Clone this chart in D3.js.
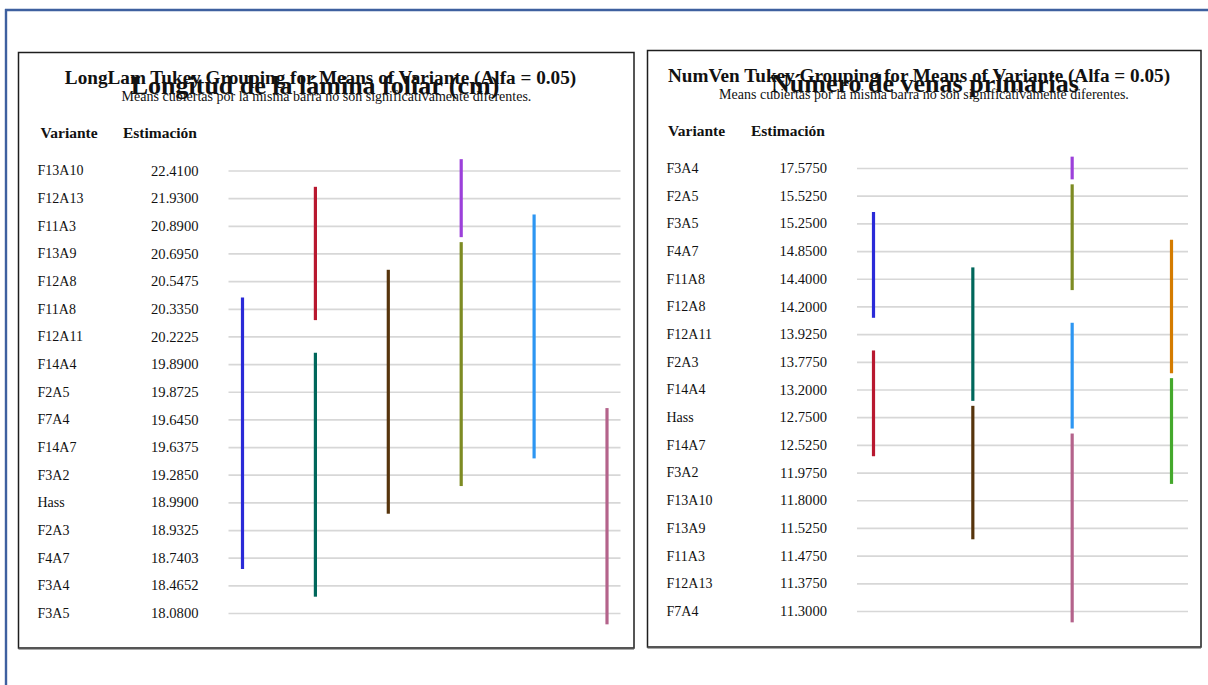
<!DOCTYPE html>
<html>
<head>
<meta charset="utf-8">
<script src="https://cdn.jsdelivr.net/npm/d3@7"></script>
<style>
  html, body { margin: 0; padding: 0; background: #ffffff; }
  svg { display: block; }
  text { font-family: "Liberation Serif", "Times New Roman", serif; fill: #111; }
</style>
</head>
<body>
<svg id="chart" width="1208" height="685"></svg>
<script>
// ---------------- DATA ----------------
// Left panel: Longitud de la lámina foliar (cm)
const leftTitle = "LongLam Tukey Grouping for Means of Variante (Alfa = 0.05)";
const leftBigTitle = "Longitud de la lámina foliar (cm)";
const leftVariants = ["F13A10","F12A13","F11A3","F13A9","F12A8","F11A8","F12A11","F14A4","F2A5","F7A4","F14A7","F3A2","Hass","F2A3","F4A7","F3A4","F3A5"];
const leftEstimates = ["22.4100","21.9300","20.8900","20.6950","20.5475","20.3350","20.2225","19.8900","19.8725","19.6450","19.6375","19.2850","18.9900","18.9325","18.7403","18.4652","18.0800"];
const leftGroupStart  = ["F13A10","F12A13","F11A3","F13A9","F12A8","F11A8","F14A4","F7A4"];
const leftGroupEnd    = ["F11A3","F11A8","F14A7","F3A2","Hass","F4A7","F3A4","F3A5"];
const leftGroupColumn = [3, 1, 4, 3, 2, 0, 1, 5];
const leftGroupColor  = ["#9c40da","#b8182f","#2d96f2","#7d8b23","#56340c","#2a2ad8","#00675b","#b4638b"];

// Right panel: Número de venas primarias
const rightTitle = "NumVen Tukey Grouping for Means of Variante (Alfa = 0.05)";
const rightBigTitle = "Número de venas primarias";
const rightVariants = ["F3A4","F2A5","F3A5","F4A7","F11A8","F12A8","F12A11","F2A3","F14A4","Hass","F14A7","F3A2","F13A10","F13A9","F11A3","F12A13","F7A4"];
const rightEstimates = ["17.5750","15.5250","15.2500","14.8500","14.4000","14.2000","13.9250","13.7750","13.2000","12.7500","12.5250","11.9750","11.8000","11.5250","11.4750","11.3750","11.3000"];
const rightGroupStart  = ["F3A4","F2A5","F3A5","F4A7","F11A8","F12A11","F2A3","F14A4","Hass","F14A7"];
const rightGroupEnd    = ["F3A4","F11A8","F12A8","F2A3","F14A4","Hass","F14A7","F3A2","F13A9","F7A4"];
const rightGroupColumn = [2, 2, 0, 3, 1, 2, 0, 3, 1, 2];
const rightGroupColor  = ["#9c40da","#7d8b23","#2a2ad8","#d47b00","#00675b","#2d96f2","#b8182f","#44a82c","#56340c","#b4638b"];

const subtitleText = "Means cubiertas por la misma barra no son significativamente diferentes.";
const headerVariante = "Variante";
const headerEstimacion = "Estimación";

// ---------------- DRAW ----------------
const svg = d3.select("#chart");
svg.append("rect").attr("width", 1208).attr("height", 685).attr("fill", "#fff");

// outer blue frame
svg.append("line").attr("x1", 5).attr("x2", 1208).attr("y1", 10).attr("y2", 10)
  .attr("stroke", "#3e609f").attr("stroke-width", 2.4);
svg.append("line").attr("x1", 6).attr("x2", 6).attr("y1", 9).attr("y2", 685)
  .attr("stroke", "#3e609f").attr("stroke-width", 2.4);

function drawPanel(cfg) {
  const g = svg.append("g");
  // panel box
  g.append("rect")
    .attr("x", cfg.box[0]).attr("y", cfg.box[1])
    .attr("width", cfg.box[2] - cfg.box[0]).attr("height", cfg.box[3] - cfg.box[1])
    .attr("fill", "#fff").attr("stroke", "#1e1e1e").attr("stroke-width", 1.5);
  g.append("line")
    .attr("x1", cfg.box[0]).attr("x2", cfg.box[2])
    .attr("y1", cfg.box[3] + 0.5).attr("y2", cfg.box[3] + 0.5)
    .attr("stroke", "#555").attr("stroke-width", 2.2);

  const y = d3.scalePoint().domain(cfg.variants).range(cfg.rowRange);
  const x = d3.scalePoint().domain(d3.range(cfg.nCols)).range(cfg.colRange);

  // gridlines via axis
  const grid = g.append("g")
    .attr("transform", `translate(${cfg.gridX[0]},0)`)
    .call(d3.axisRight(y).tickSize(cfg.gridX[1] - cfg.gridX[0]).tickFormat(""));
  grid.select(".domain").remove();
  grid.selectAll(".tick line").attr("stroke", "#d7d7d7").attr("stroke-width", 1.7);

  // titles
  g.append("text").attr("x", cfg.titleX).attr("y", cfg.titleY)
    .attr("text-anchor", "middle").attr("font-weight", "bold").attr("font-size", 19.2)
    .text(cfg.title);
  g.append("text").attr("x", cfg.bigX).attr("y", cfg.bigY)
    .attr("text-anchor", "middle").attr("font-weight", "bold").attr("font-size", 26)
    .text(cfg.bigTitle);
  g.append("text").attr("x", cfg.subX).attr("y", cfg.subY)
    .attr("text-anchor", "middle").attr("font-size", 14)
    .text(subtitleText);

  // headers
  g.append("text").attr("x", cfg.headX[0]).attr("y", cfg.headerY)
    .attr("font-weight", "bold").attr("font-size", 15.5).text(headerVariante);
  g.append("text").attr("x", cfg.headX[1]).attr("y", cfg.headerY)
    .attr("text-anchor", "end").attr("font-weight", "bold").attr("font-size", 15.5).text(headerEstimacion);

  // row labels and values
  g.selectAll("text.lab").data(cfg.variants).join("text")
    .attr("class", "lab")
    .attr("x", cfg.labelX).attr("y", d => y(d)).attr("dy", "0.35em")
    .attr("font-size", 14).text(d => d);
  g.selectAll("text.val").data(cfg.estimates).join("text")
    .attr("class", "val")
    .attr("x", cfg.valueX).attr("y", (d, i) => y(cfg.variants[i])).attr("dy", "0.35em")
    .attr("text-anchor", "end").attr("font-size", 14.6).text(d => d);

  // grouping bars
  const ext = y.step() * 0.41;
  const groups = cfg.gStart.map((s, i) => ({ s, e: cfg.gEnd[i], c: cfg.gCol[i], color: cfg.gColor[i] }));
  g.selectAll("line.bar").data(groups).join("line")
    .attr("class", "bar")
    .attr("x1", d => x(d.c)).attr("x2", d => x(d.c))
    .attr("y1", d => y(d.s) - ext).attr("y2", d => y(d.e) + ext)
    .attr("stroke", d => d.color).attr("stroke-width", 3.2);
}

drawPanel({
  box: [18.5, 52.5, 634, 648],
  variants: leftVariants, estimates: leftEstimates,
  gStart: leftGroupStart, gEnd: leftGroupEnd, gCol: leftGroupColumn, gColor: leftGroupColor,
  nCols: 6,
  rowRange: [170.5, 613], colRange: [242.5, 607], gridX: [228.5, 620.5],
  labelX: 37.5, valueX: 198.5, headerY: 137.5, headX: [40.5, 197],
  title: leftTitle, titleX: 320.5, titleY: 84,
  bigTitle: leftBigTitle, bigX: 315, bigY: 94,
  subX: 326.5, subY: 101
});

drawPanel({
  box: [647.5, 50.5, 1201, 647],
  variants: rightVariants, estimates: rightEstimates,
  gStart: rightGroupStart, gEnd: rightGroupEnd, gCol: rightGroupColumn, gColor: rightGroupColor,
  nCols: 4,
  rowRange: [168, 611], colRange: [873.5, 1171.5], gridX: [857, 1188],
  labelX: 666.5, valueX: 827, headerY: 135.5, headX: [668, 825],
  title: rightTitle, titleX: 919, titleY: 82,
  bigTitle: rightBigTitle, bigX: 925, bigY: 92,
  subX: 924, subY: 99
});
</script>
</body>
</html>
